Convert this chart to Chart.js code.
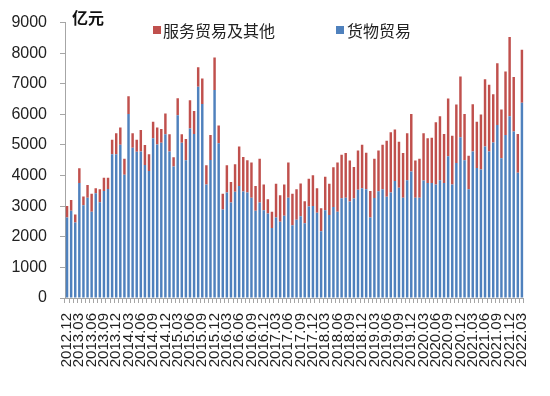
<!DOCTYPE html>
<html>
<head>
<meta charset="utf-8">
<script src="https://cdn.jsdelivr.net/npm/chart.js@4.4.1/dist/chart.umd.min.js"></script>
<style>
  html, body { margin: 0; padding: 0; background: #ffffff; }
  #wrap { width: 550px; height: 396px; position: relative; }
</style>
</head>
<body>
<div id="wrap"><canvas id="c" width="550" height="396"></canvas></div>
<script>
const months = [
  "2012.12",
  "2013.01","2013.02","2013.03","2013.04","2013.05","2013.06","2013.07","2013.08","2013.09","2013.10","2013.11","2013.12",
  "2014.01","2014.02","2014.03","2014.04","2014.05","2014.06","2014.07","2014.08","2014.09","2014.10","2014.11","2014.12",
  "2015.01","2015.02","2015.03","2015.04","2015.05","2015.06","2015.07","2015.08","2015.09","2015.10","2015.11","2015.12",
  "2016.01","2016.02","2016.03","2016.04","2016.05","2016.06","2016.07","2016.08","2016.09","2016.10","2016.11","2016.12",
  "2017.01","2017.02","2017.03","2017.04","2017.05","2017.06","2017.07","2017.08","2017.09","2017.10","2017.11","2017.12",
  "2018.01","2018.02","2018.03","2018.04","2018.05","2018.06","2018.07","2018.08","2018.09","2018.10","2018.11","2018.12",
  "2019.01","2019.02","2019.03","2019.04","2019.05","2019.06","2019.07","2019.08","2019.09","2019.10","2019.11","2019.12",
  "2020.01","2020.02","2020.03","2020.04","2020.05","2020.06","2020.07","2020.08","2020.09","2020.10","2020.11","2020.12",
  "2021.01","2021.02","2021.03","2021.04","2021.05","2021.06","2021.07","2021.08","2021.09","2021.10","2021.11","2021.12",
  "2022.01","2022.02","2022.03"
];

// 货物贸易 (blue, bottom segment), 亿元
const goods = [
  2630,
  2850,2470,3760,3030,3280,2820,3420,3130,3500,3560,4700,4700,
  5010,4030,6010,4910,4780,4790,4350,4150,5220,5020,5070,5350,
  4790,4300,5970,5070,4500,5540,5360,6900,6340,3710,4510,6800,
  5060,2890,3450,3120,3470,3660,3480,3450,3280,2850,3120,2870,
  2760,2290,2630,2490,2690,3280,2380,2560,2670,2440,2990,3010,
  2790,2180,2870,2710,2970,2820,3260,3280,3150,3250,3540,3590,
  3550,2630,3270,3490,3550,3310,3450,3820,3600,3280,3850,4130,
  3280,3280,3840,3760,3760,3710,3850,3760,4630,3710,4410,5250,
  4500,3550,4790,4250,4200,4950,4790,5080,5650,4570,5330,5940,
  5440,4090,6380
];

// 服务贸易及其他 (red, top segment), 亿元
const services = [
  380,
  350,260,480,290,410,590,170,420,430,370,470,680,
  560,520,580,470,390,700,650,550,540,550,450,680,
  560,300,560,280,700,920,750,640,830,630,820,1060,
  580,520,890,670,900,1290,1130,1050,1150,810,1430,840,
  470,530,1100,870,1020,1150,1030,990,1070,720,910,1000,
  800,750,1090,1020,1300,1610,1420,1460,1340,1030,1280,1420,
  1200,870,1280,1330,1460,1830,1970,1690,1510,1460,1530,1880,
  1210,1270,1540,1460,1480,2030,2090,1600,1890,1590,1910,1990,
  1510,1100,1540,1510,1800,2200,2180,1580,2020,1590,2070,2590,
  1780,1270,1730
];

const yTicks = [0, 1000, 2000, 3000, 4000, 5000, 6000, 7000, 8000, 9000];
const unitLabel = "亿元";
const seriesNames = ["服务贸易及其他", "货物贸易"];

const RED = "#C0504D";
const BLUE = "#4F81BD";
const AXIS = "#A6A6A6";

const overlayPlugin = {
  id: "overlay",
  afterDraw(chart) {
    const ctx = chart.ctx;
    ctx.save();
    // unit title
    ctx.fillStyle = "#111";
    ctx.font = "bold 16px 'Noto Sans CJK SC', sans-serif";
    ctx.textBaseline = "middle";
    ctx.textAlign = "left";
    ctx.fillText(unitLabel, 72, 18);
    // legend (red first, then blue)
    const items = [
      { ds: chart.data.datasets[1], sx: 153, tx: 163 },
      { ds: chart.data.datasets[0], sx: 336, tx: 347 }
    ];
    ctx.font = "16px 'Noto Sans CJK SC', sans-serif";
    items.forEach(it => {
      ctx.fillStyle = it.ds.backgroundColor;
      ctx.fillRect(it.sx, 26, 8, 8);
      ctx.fillStyle = "#222";
      ctx.fillText(it.ds.label, it.tx, 31);
    });
    ctx.restore();
  }
};

new Chart(document.getElementById("c"), {
  type: "bar",
  data: {
    labels: months,
    datasets: [
      { label: seriesNames[1], data: goods, backgroundColor: BLUE, stack: "s",
        barPercentage: 0.6, categoryPercentage: 1.0 },
      { label: seriesNames[0], data: services, backgroundColor: RED, stack: "s",
        barPercentage: 0.6, categoryPercentage: 1.0 }
    ]
  },
  options: {
    responsive: false,
    animation: false,
    devicePixelRatio: 1,
    layout: { padding: { left: 12, right: 19, top: 19, bottom: 0 } },
    plugins: {
      legend: { display: false },
      title: { display: false },
      tooltip: { enabled: false }
    },
    scales: {
      x: {
        stacked: true,
        offset: true,
        grid: { display: true, drawOnChartArea: false, offset: true, tickLength: 5, color: AXIS },
        border: { display: true, color: AXIS },
        ticks: {
          autoSkip: false,
          minRotation: 90,
          maxRotation: 90,
          padding: 10,
          color: "#222",
          font: { family: "'Liberation Sans', Arial, sans-serif", size: 15 },
          callback: function (val, i) { return i % 3 === 0 ? months[i] : ""; }
        },
        afterFit(scale) { scale.height = 98; }
      },
      y: {
        stacked: true,
        min: yTicks[0],
        max: yTicks[yTicks.length - 1],
        afterBuildTicks(scale) { scale.ticks = yTicks.map(v => ({ value: v })); },
        grid: { display: true, drawOnChartArea: false, tickLength: 5, color: AXIS },
        border: { display: true, color: AXIS },
        ticks: {
          padding: 13,
          color: "#222",
          font: { family: "'Liberation Sans', Arial, sans-serif", size: 16 },
          callback: function (v) { return String(v); }
        },
        afterFit(scale) { scale.width = 53; }
      }
    }
  },
  plugins: [overlayPlugin]
});
</script>
</body>
</html>
